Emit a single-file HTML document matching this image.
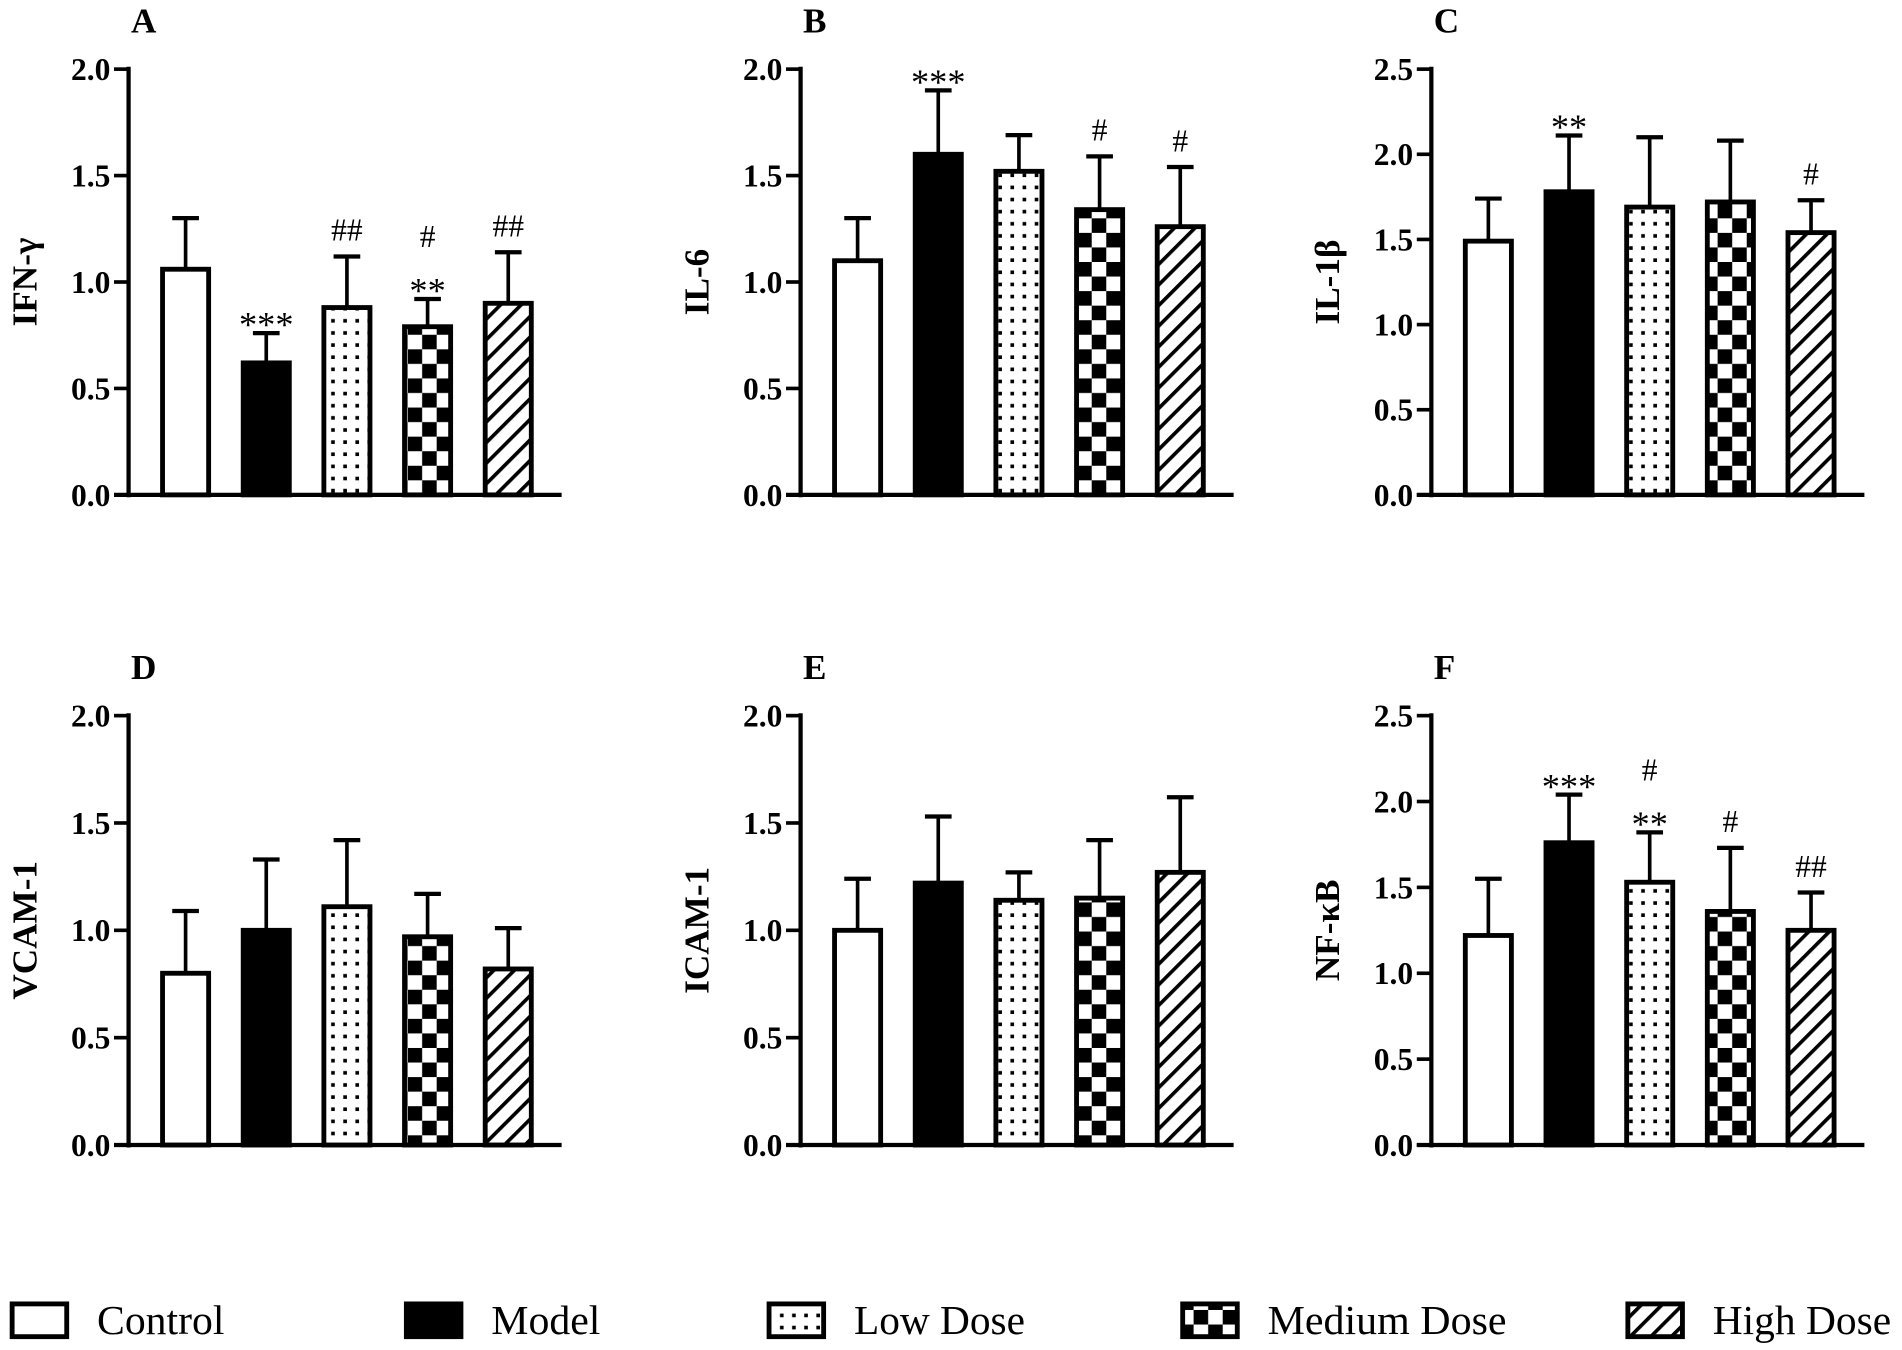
<!DOCTYPE html>
<html><head><meta charset="utf-8"><style>
html,body{margin:0;padding:0;background:#fff;}
svg{display:block;}
text{font-family:"Liberation Serif",serif;fill:#000;}
</style></head><body>
<svg id="fig" width="1902" height="1350" viewBox="0 0 1568 1113" preserveAspectRatio="none" xmlns="http://www.w3.org/2000/svg">
<defs>
<pattern id="dots" patternUnits="userSpaceOnUse" width="10" height="10"><rect width="10" height="10" fill="#fff"/><rect x="3" y="3" width="3" height="3" fill="#000"/></pattern>
<pattern id="check" patternUnits="userSpaceOnUse" width="24" height="24"><rect width="24" height="24" fill="#fff"/><rect x="0" y="0" width="12" height="12" fill="#000"/><rect x="12" y="12" width="12" height="12" fill="#000"/></pattern>
<pattern id="hatch" patternUnits="userSpaceOnUse" width="12" height="12" patternTransform="rotate(45)"><rect width="12" height="12" fill="#fff"/><rect x="0" y="0" width="3" height="12" fill="#000"/></pattern>
</defs>
<g id="panels"></g>
<g id="legend"></g>
</svg>
<script>
const groups = ["Control","Model","Low Dose","Medium Dose","High Dose"];
const fills = ["#fff","#000","url(#dots)","url(#check)","url(#hatch)"];
const titles = ["IFN-γ","IL-6","IL-1β","VCAM-1","ICAM-1","NF-κB"];
const letters = ["A","B","C","D","E","F"];
const yMax = [2.0,2.0,2.5,2.0,2.0,2.5];
const ticks2 = ["0.0","0.5","1.0","1.5","2.0"];
const ticks25 = ["0.0","0.5","1.0","1.5","2.0","2.5"];
const meanA = [1.06,0.62,0.88,0.79,0.90];
const errA = [1.30,0.76,1.12,0.92,1.14];
const annA = ["","***","##","#|**","##"];
const meanB = [1.10,1.60,1.52,1.34,1.26];
const errB = [1.30,1.90,1.69,1.59,1.54];
const annB = ["","***","","#","#"];
const meanC = [1.49,1.78,1.69,1.72,1.54];
const errC = [1.74,2.11,2.10,2.08,1.73];
const annC = ["","**","","","#"];
const meanD = [0.80,1.00,1.11,0.97,0.82];
const errD = [1.09,1.33,1.42,1.17,1.01];
const annD = ["","","","",""];
const meanE = [1.00,1.22,1.14,1.15,1.27];
const errE = [1.24,1.53,1.27,1.42,1.62];
const annE = ["","","","",""];
const meanF = [1.22,1.76,1.53,1.36,1.25];
const errF = [1.55,2.04,1.82,1.73,1.47];
const annF = ["","***","#|**","#","##"];
const means=[meanA,meanB,meanC,meanD,meanE,meanF];
const errs=[errA,errB,errC,errD,errE,errF];
const anns=[annA,annB,annC,annD,annE,annF];

const NS="http://www.w3.org/2000/svg";
function mk(tag,attrs,parent){const e=document.createElementNS(NS,tag);for(const k in attrs)e.setAttribute(k,attrs[k]);parent.appendChild(e);return e;}
const root=document.getElementById('panels');
const axX=[106,660,1180];
const rowTop=[57,590], rowBot=[408,944];
for(let p=0;p<6;p++){
  const col=p%3,row=Math.floor(p/3);
  const x0=axX[col], yT=rowTop[row], yB=rowBot[row], ym=yMax[p];
  const yS=v=>yB-(v/ym)*(yB-yT);
  const xC=i=>x0+47+i*66.5;
  const g=mk('g',{},root);
  
  
  const lt=mk('text',{x:x0+2,y:yT-30,'font-size':29,'font-weight':'bold'},g);lt.textContent=letters[p];
  
  
  const yt=mk('text',{x:0,y:0,'font-size':29,'font-weight':'bold','text-anchor':'middle',transform:`translate(${x0-76},${(yT+yB)/2}) rotate(-90)`},g);yt.textContent=titles[p];
  
  
  const tl=ym>2?ticks25:ticks2;
  tl.forEach(t=>{const y=yS(parseFloat(t));
    mk('line',{x1:x0-12,x2:x0,y1:y,y2:y,stroke:'#000','stroke-width':3},g);
    const tx=mk('text',{x:x0-15,y:y+9,'font-size':26,'font-weight':'bold','text-anchor':'end'},g);tx.textContent=t;
    
    
  });
  means[p].forEach((m,i)=>{
    const cx=xC(i), yt2=yS(m), ye=yS(errs[p][i]);
    mk('line',{x1:cx,x2:cx,y1:yt2,y2:ye,stroke:'#000','stroke-width':3},g);
    mk('line',{x1:cx-11,x2:cx+11,y1:ye,y2:ye,stroke:'#000','stroke-width':3.5},g);
    const b=mk('rect',{x:cx-19,y:yt2,width:38,height:yB-yt2,fill:fills[i],stroke:'#000','stroke-width':4},g);
    
    
    const a=anns[p][i];
    if(a){const parts=a.split('|').reverse();
      parts.forEach((s,k)=>{const isStar=s[0]==='*';
        const y=ye-(isStar?4:13)-k*30;
        const t=mk('text',{x:cx,y:isStar?y+7:y,'font-size':isStar?30:26,'text-anchor':'middle'},g);
        t.textContent=s;
        
        
      });}
  });
  mk('line',{x1:x0,x2:x0,y1:yT-2,y2:yB+2,stroke:'#000','stroke-width':3.5},g);
  mk('line',{x1:x0-12,x2:x0+357,y1:yB,y2:yB,stroke:'#000','stroke-width':3.5},g);
}
const lg=document.getElementById('legend');
const lbx=[8,333,632,973,1340];
const lw=[105,90,141,197,147];
groups.forEach((n,i)=>{
  const r=mk('rect',{x:lbx[i]+2,y:1075,width:45,height:27,fill:fills[i],stroke:'#000','stroke-width':4},lg);
  
  
  const t=mk('text',{x:lbx[i]+72,y:1100,'font-size':34,textLength:lw[i],lengthAdjust:'spacingAndGlyphs'},lg);t.textContent=n;
  
  
});
</script>
</body></html>
